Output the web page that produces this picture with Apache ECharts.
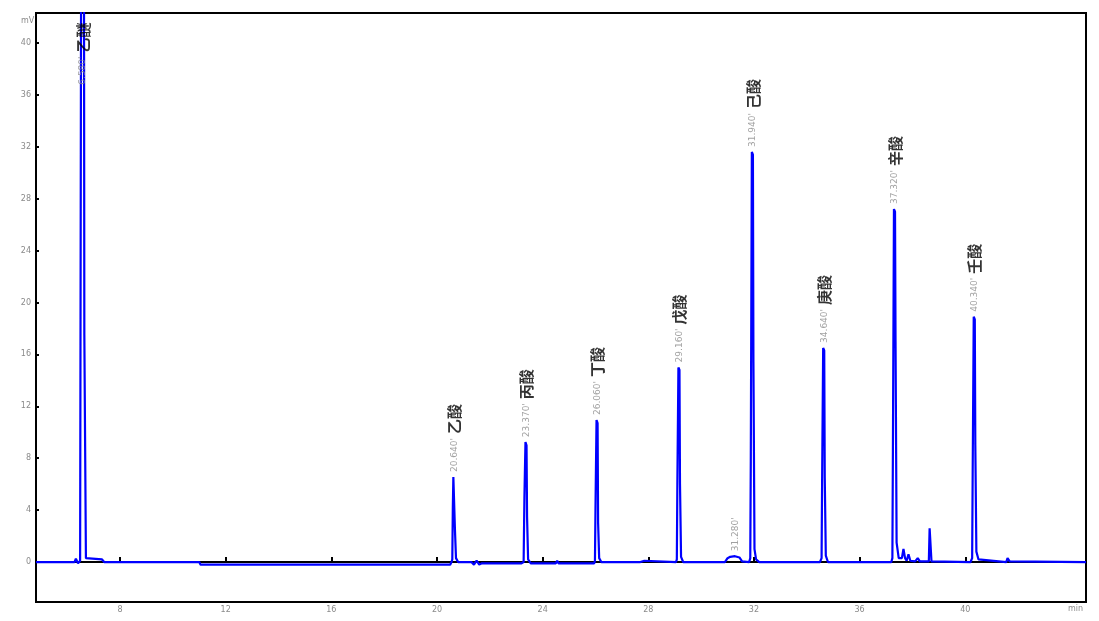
<!DOCTYPE html>
<html>
<head>
<meta charset="utf-8">
<script src="https://cdn.jsdelivr.net/npm/echarts@6/dist/echarts.min.js"></script>
<style>
html,body{margin:0;padding:0;background:#fff;}
#chart{width:1099px;height:621px;}
</style>
</head>
<body>
<div id="chart"></div>
<script>
// ---- data (retention time in min, signal in mV) ----
const xTicks = [8, 12, 16, 20, 24, 28, 32, 36, 40];
const yTicks = [0, 4, 8, 12, 16, 20, 24, 28, 32, 36, 40];

const trace = [
  [4.82, 0.0], [6.28, 0.0], [6.33, 0.25], [6.38, 0.25], [6.41, -0.1], [6.46, -0.1],
  [6.49, 0.1], [6.52, 0.2], [6.54, 60], [6.63, 60], [6.65, 17.5], [6.69, 17.5],
  [6.71, 0.3], [6.75, 0.2], [7.32, 0.2], [7.40, 0.0], [8.90, 0.0], [8.95, 0.1],
  [9.00, 0.0], [11.00, 0.0], [11.05, -0.2], [11.90, -0.2], [11.94, -0.05], [11.98, -0.2],
  [14.85, -0.2], [14.90, -0.05], [14.96, -0.2], [18.20, -0.2], [18.25, -0.05], [18.30, -0.2],
  [20.50, -0.2], [20.55, 0.0],
  [20.58, 0.2], [20.60, 4.2], [20.62, 6.55], [20.66, 6.55], [20.68, 2.5], [20.72, 0.3], [20.80, 0.0],
  [21.30, 0.0], [21.40, -0.2], [21.50, 0.1], [21.60, -0.2], [21.70, -0.1], [23.20, -0.1],
  [23.28, 0.0], [23.31, 5.0], [23.35, 9.24], [23.39, 9.0], [23.41, 3.5], [23.45, 0.2], [23.55, -0.1],
  [24.50, -0.1], [24.55, 0.1], [24.60, -0.1], [25.95, -0.1],
  [25.98, 0.1], [26.00, 4.0], [26.04, 10.94], [26.08, 10.7], [26.10, 3.0], [26.14, 0.3], [26.22, 0.0],
  [27.70, 0.0], [27.75, 0.1], [27.85, 0.1], [27.90, 0.0], [29.05, 0.0],
  [29.08, 0.2], [29.10, 6.0], [29.14, 15.0], [29.18, 14.8], [29.20, 6.0], [29.24, 0.4], [29.32, 0.0],
  [30.20, 0.0], [30.25, 0.1], [30.30, 0.0], [30.90, 0.0],
  [31.00, 0.3], [31.10, 0.4], [31.28, 0.45], [31.45, 0.35], [31.55, 0.05], [31.82, 0.0],
  [31.86, 0.3], [31.88, 7.8], [31.92, 31.6], [31.96, 31.4], [31.98, 15.4], [32.02, 1.0], [32.08, 0.2], [32.20, 0.0],
  [34.50, 0.0],
  [34.56, 0.3], [34.58, 6.2], [34.62, 16.5], [34.66, 16.3], [34.68, 6.5], [34.72, 0.5], [34.80, 0.0],
  [35.50, 0.0], [35.55, 0.15], [35.60, 0.0], [37.20, 0.0],
  [37.24, 0.3], [37.26, 8.5], [37.30, 27.2], [37.34, 27.0], [37.36, 17.0], [37.40, 1.5], [37.48, 0.3],
  [37.60, 0.3], [37.66, 1.0], [37.72, 0.3], [37.78, 0.1], [37.85, 0.6], [37.92, 0.1],
  [38.10, 0.05], [38.20, 0.3], [38.28, 0.05],
  [38.62, 0.05], [38.65, 2.6], [38.69, 2.6], [38.72, 0.05], [40.20, 0.0],
  [40.26, 0.3], [40.28, 6.8], [40.32, 18.9], [40.36, 18.7], [40.38, 9.0], [40.42, 0.8], [40.50, 0.2],
  [41.55, 0.0], [41.60, 0.3], [41.68, 0.05], [44.57, 0.0]
];

const peakNames  = ['乙醚', '乙酸', '丙酸', '丁酸', '戊酸', '', '己酸', '庚酸', '辛酸', '壬酸'];
const peakTimes  = [6.60, 20.66, 23.39, 26.08, 29.18, 31.30, 31.96, 34.66, 37.34, 40.36];
const labelAnchor = [36.4, 6.55, 9.24, 10.94, 15.0, 0.45, 31.6, 16.5, 27.2, 18.9];
const rtLabels   = ["6.580'", "20.640'", "23.370'", "26.060'", "29.160'", "31.280'", "31.940'", "34.640'", "37.320'", "40.340'"];

const chart = echarts.init(document.getElementById('chart'));

const labelPoints = peakTimes.map((t, i) => ({
  value: [t, labelAnchor[i]],
  name: peakNames[i],
  rt: rtLabels[i]
}));

const tickLabelStyle = { color: '#8a8a8a', fontSize: 8, fontFamily: 'DejaVu Sans' };

chart.setOption({
  animation: false,
  backgroundColor: '#fff',
  grid: { left: 36, right: 13, top: 13, bottom: 19, show: true, borderColor: '#000', borderWidth: 2, backgroundColor: 'transparent' },
  xAxis: {
    type: 'value', min: 4.82, max: 44.57,
    axisLine: { show: true, lineStyle: { color: '#000', width: 2 } },
    axisTick: { show: true, inside: true, length: 5, customValues: xTicks, lineStyle: { color: '#000', width: 2 } },
    axisLabel: { show: true, customValues: xTicks, margin: 4, ...tickLabelStyle },
    splitLine: { show: false }
  },
  yAxis: {
    type: 'value', min: -3.08, max: 42.31,
    axisLine: { show: true, lineStyle: { color: '#000', width: 2 } },
    axisTick: { show: true, inside: true, length: 3, customValues: yTicks, lineStyle: { color: '#000', width: 2 } },
    axisLabel: { show: true, customValues: yTicks, margin: 5, ...tickLabelStyle },
    splitLine: { show: false }
  },
  graphic: [
    { type: 'text', left: 21, top: 17, style: { text: 'mV', fill: '#8a8a8a', fontSize: 8, fontFamily: 'DejaVu Sans' } },
    { type: 'text', left: 1068, top: 605, style: { text: 'min', fill: '#8a8a8a', fontSize: 8, fontFamily: 'DejaVu Sans' } }
  ],
  series: [
    {
      type: 'line',
      data: trace,
      showSymbol: false,
      symbol: 'none',
      sampling: null,
      clip: true,
      lineStyle: { color: '#0000ff', width: 2.2 },
      z: 2
    },
    {
      type: 'scatter',
      data: labelPoints,
      symbolSize: 0,
      silent: true,
      clip: false,
      z: 3,
      label: {
        show: true,
        position: 'top',
        distance: 5,
        rotate: 90,
        align: 'left',
        verticalAlign: 'middle',
        formatter: p => '{rt|' + p.data.rt + '}' + (p.data.name ? '{gap|}{nm|' + p.data.name + '}' : ''),
        rich: {
          rt: { fontSize: 9, color: '#8a8a8a', fontFamily: 'DejaVu Sans', verticalAlign: 'middle' },
          gap: { width: 4 },
          nm: { fontSize: 15, color: '#000', fontWeight: 'bold', fontFamily: 'Noto Sans CJK SC', verticalAlign: 'middle' }
        }
      },
      labelLayout: { hideOverlap: false }
    }
  ]
});
</script>
</body>
</html>
